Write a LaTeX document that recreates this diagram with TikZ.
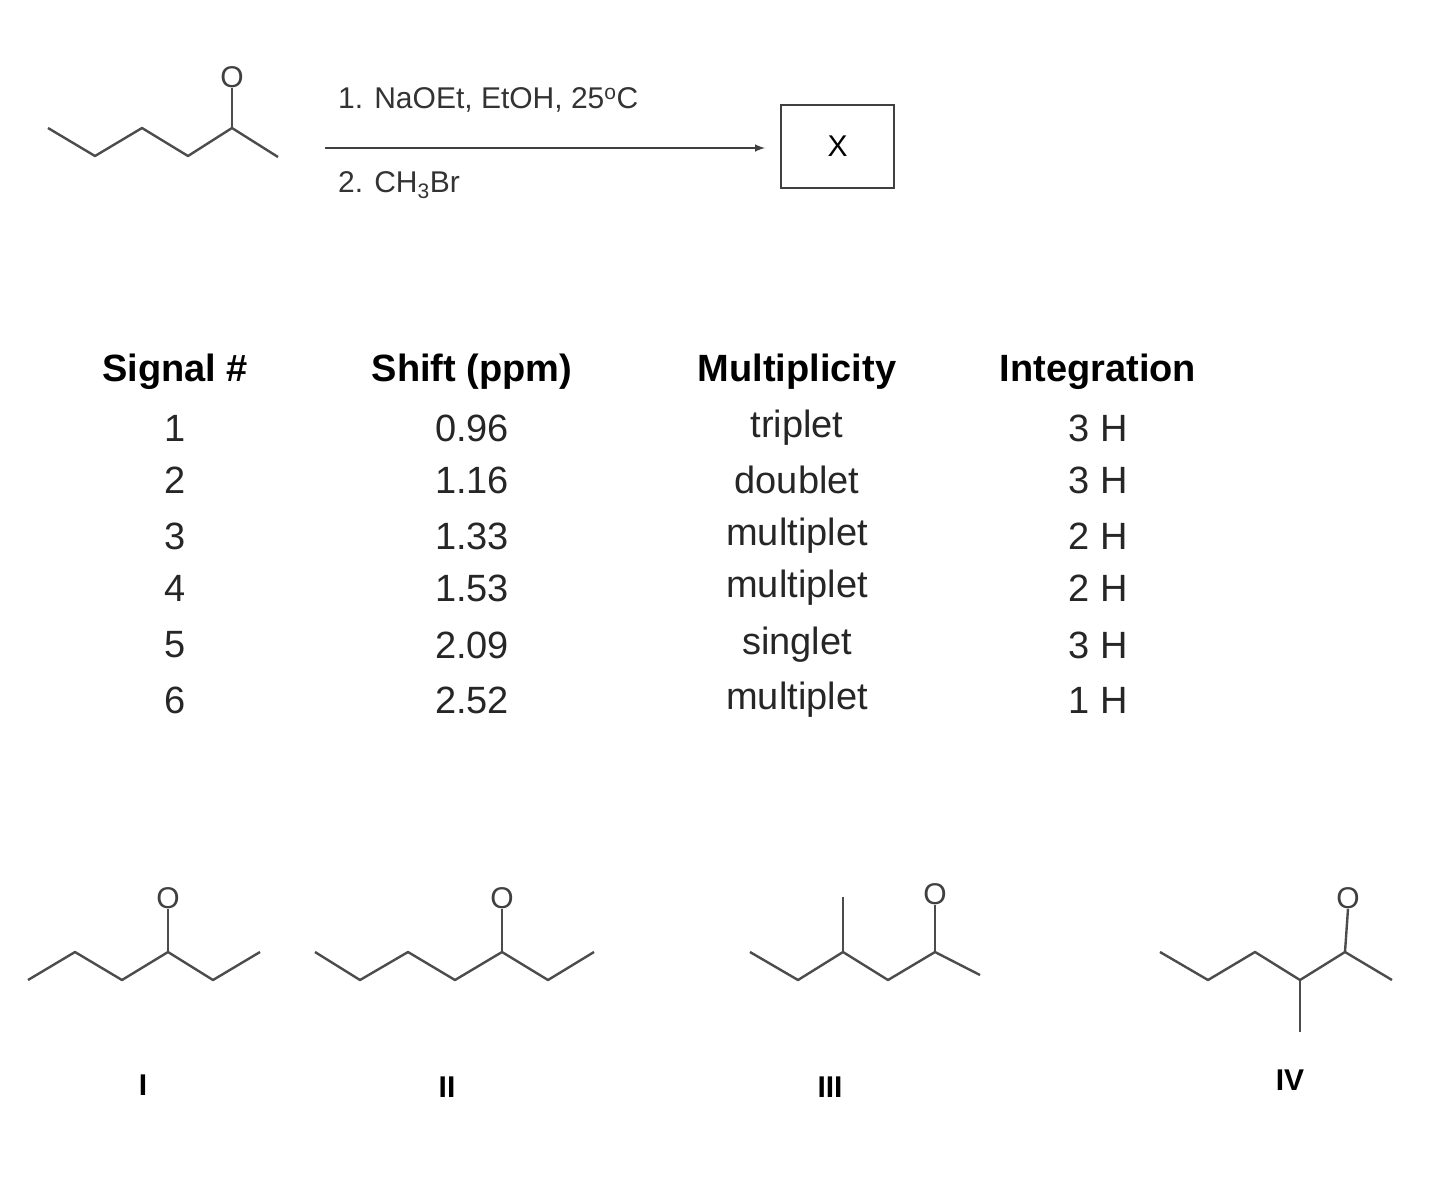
\documentclass[tikz,border=0pt]{standalone}
\usepackage{fontspec}
\setmainfont{Liberation Sans}
\begin{document}
\begin{tikzpicture}[x=1pt,y=-1pt,
  bond/.style={line width=2.4pt,draw=black!70,line join=round},
  oat/.style={font=\fontsize{30}{30}\selectfont,text=black!75,inner sep=0pt},
  rxn/.style={font=\fontsize{30}{30}\selectfont,text=black!80,inner sep=0pt},
  hd/.style={font=\fontsize{38}{38}\selectfont\bfseries,inner sep=0pt},
  cell/.style={font=\fontsize{38}{38}\selectfont,inner sep=0pt,text=black!85},
  lab/.style={font=\fontsize{30}{30}\selectfont\bfseries,inner sep=0pt}]
\useasboundingbox (0,0) rectangle (1435,1200);
% starting ketone
\coordinate (s1) at (48,128);\coordinate (s2) at (95,156);\coordinate (s3) at (142,128);
\coordinate (s4) at (188,156);\coordinate (s5) at (232,128);\coordinate (s6) at (278,157);
\node[oat] (sO) at (232,77) {O};
\draw[bond] (s1)--(s2)--(s3)--(s4)--(s5)--(s6);
\draw[bond] (s5)--(sO.south);
% arrow
\coordinate (a1) at (325,148); \coordinate (a2) at (765,148);
\draw[line width=2.4pt,black!75,-latex] (a1)--(a2);
\node[rxn,anchor=west] (r1) at (338,100) {1. NaOEt, EtOH, 25\textsuperscript{o}C};
\node[rxn,anchor=west] (r2) at (338,185) {2. CH\textsubscript{3}Br};
\node[draw=black!75,line width=2.4pt,minimum width=113pt,minimum height=83pt,font=\fontsize{30}{30}\selectfont] (X) at (837.5,146.5) {X};
% table
\foreach \t/\x [count=\i] in {{Signal \#}/175,{Shift (ppm)}/472,Multiplicity/797,Integration/1098}
  \node[hd] (h\i) at (\x,372) {\t};
\foreach \a/\b/\c/\d/\y [count=\i] in {1/0.96/triplet/3 H/428,2/1.16/doublet/3 H/480,3/1.33/multiplet/2 H/536,4/1.53/multiplet/2 H/588,5/2.09/singlet/3 H/645,6/2.52/multiplet/1 H/700}{
  \node[cell] (c\i a) at (175,\y) {\a};
  \node[cell] (c\i b) at (472,\y) {\b};
  \node[cell] (c\i c) at (797,\y) {\c};
  \node[cell] (c\i d) at (1098,\y) {\d};}
% I
\draw[bond] (28,980)--(75,952)--(122,980)--(168,952)--(213,980)--(260,952);
\node[oat] (OI) at (168,898) {O};
\draw[bond] (168,952)--(OI.south);
\node[lab] (LI) at (143,1085) {I};
% II
\draw[bond] (315,952)--(360,980)--(408,952)--(455,980)--(502,952)--(548,980)--(594,952);
\node[oat] (OII) at (502,898) {O};
\draw[bond] (502,952)--(OII.south);
\node[lab] (LII) at (447,1087) {II};
% III
\draw[bond] (750,952)--(798,980)--(843,952)--(888,980)--(935,952)--(980,975);
\draw[bond] (843,952)--(843,897);
\node[oat] (OIII) at (935,894) {O};
\draw[bond] (935,952)--(OIII.south);
\node[lab] (LIII) at (830,1087) {III};
% IV
\draw[bond] (1160,952)--(1208,980)--(1255,952)--(1300,980)--(1345,952)--(1392,980);
\draw[bond] (1300,980)--(1300,1032);
\node[oat] (OIV) at (1348,898) {O};
\draw[bond] (1345,952)--(OIV.south);
\node[lab] (LIV) at (1290,1080) {IV};
\end{tikzpicture}
\end{document}
